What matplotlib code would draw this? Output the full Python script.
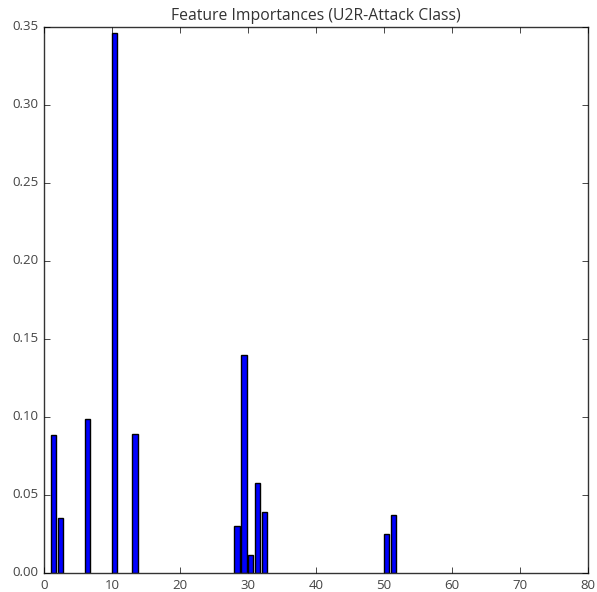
import matplotlib
matplotlib.use('Agg')
import matplotlib.pyplot as plt

features = [1, 2, 6, 10, 13, 28, 29, 30, 31, 32, 50, 51]
importances = [0.0885, 0.035, 0.099, 0.346, 0.089, 0.0303, 0.1397, 0.0115, 0.0575, 0.0389, 0.025, 0.0372]

plt.style.use('classic')
plt.rcParams['font.family'] = ['Open Sans', 'DejaVu Sans']
fig = plt.figure(figsize=(5.97, 5.92), dpi=100)
ax = fig.add_axes([44/597, 19/592, 544/597, 546/592])
ax.bar(features, importances, width=0.8, align='edge', color='b', edgecolor='k')
ax.set_xlim(0, 80)
ax.set_ylim(0, 0.35)
ax.set_title('Feature Importances (U2R-Attack Class)', fontsize=11.3, color='#333333')
ax.tick_params(labelsize=9.5, labelcolor='#444444')
for s in ax.spines.values():
    s.set_color('#333333')
fig.savefig('out.png', dpi=100)
